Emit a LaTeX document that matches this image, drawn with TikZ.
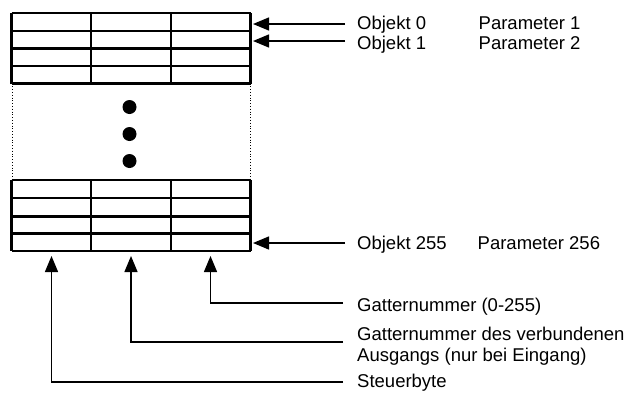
\documentclass[tikz,border=0pt]{standalone}
\usepackage{fontspec}
\setmainfont{Liberation Sans}
\usetikzlibrary{arrows.meta}
\begin{document}
\begin{tikzpicture}[x=1pt,y=-1pt,
  grid/.style={line width=2.1pt},
  conn/.style={line width=1.4pt,-{Triangle[length=16pt,width=13pt]}},
  lbl/.style={inner sep=0pt,anchor=base west,font=\fontsize{18.5}{21.5}\selectfont},
  dot/.style={circle,fill=black,inner sep=0pt,minimum size=14pt}]
\useasboundingbox (0,0) rectangle (639,394);
% top block
\foreach \yy in {13,31,48.5,66,83.5} \draw[grid] (11.5,\yy) -- (250.5,\yy);
\foreach \xx in {11.5,91,171,250.5} \draw[grid] (\xx,13) -- (\xx,83.5);
% bottom block
\foreach \yy in {180,198,216.5,233.5,251} \draw[grid] (11.5,\yy) -- (250.5,\yy);
\foreach \xx in {11.5,91,171,250.5} \draw[grid] (\xx,180) -- (\xx,251);
% dotted sides
\draw[line width=0.8pt,dotted] (12,83.5) -- (12,180);
\draw[line width=0.8pt,dotted] (250,83.5) -- (250,180);
% dots
\node[dot] (d1) at (129.5,107) {};
\node[dot] (d2) at (129.5,134) {};
\node[dot] (d3) at (129.5,161) {};
% arrow tips
\coordinate (t0) at (253,24);
\coordinate (t1) at (253,41);
\coordinate (t255) at (253,243);
\coordinate (s0) at (345,24);
\coordinate (s1) at (345,41);
\coordinate (s255) at (345,243);
\coordinate (ua) at (51.5,256);
\coordinate (ub) at (131,256);
\coordinate (uc) at (210.5,256);
\coordinate (ea) at (343,382);
\coordinate (eb) at (343,342);
\coordinate (ec) at (343,303);
% labels
\node[lbl] (o0) at (357,29.5) {Objekt 0};
\node[lbl] (p1) at (478.5,29.5) {Parameter 1};
\node[lbl] (o1) at (357,49) {Objekt 1};
\node[lbl] (p2) at (478.5,49) {Parameter 2};
\node[lbl] (o255) at (357,249) {Objekt 255};
\node[lbl] (p256) at (477.5,249) {Parameter 256};
\node[lbl] (g1) at (357,311.5) {Gatternummer (0-255)};
\node[lbl] (g2) at (357,340) {Gatternummer des verbundenen};
\node[lbl] (g3) at (357,361.5) {Ausgangs (nur bei Eingang)};
\node[lbl] (sb) at (357,387) {Steuerbyte};
% connectors
\draw[conn] (s0) -- (t0);
\draw[conn] (s1) -- (t1);
\draw[conn] (s255) -- (t255);
\draw[conn] (ec) -| (uc);
\draw[conn] (eb) -| (ub);
\draw[conn] (ea) -| (ua);
\end{tikzpicture}
\end{document}
